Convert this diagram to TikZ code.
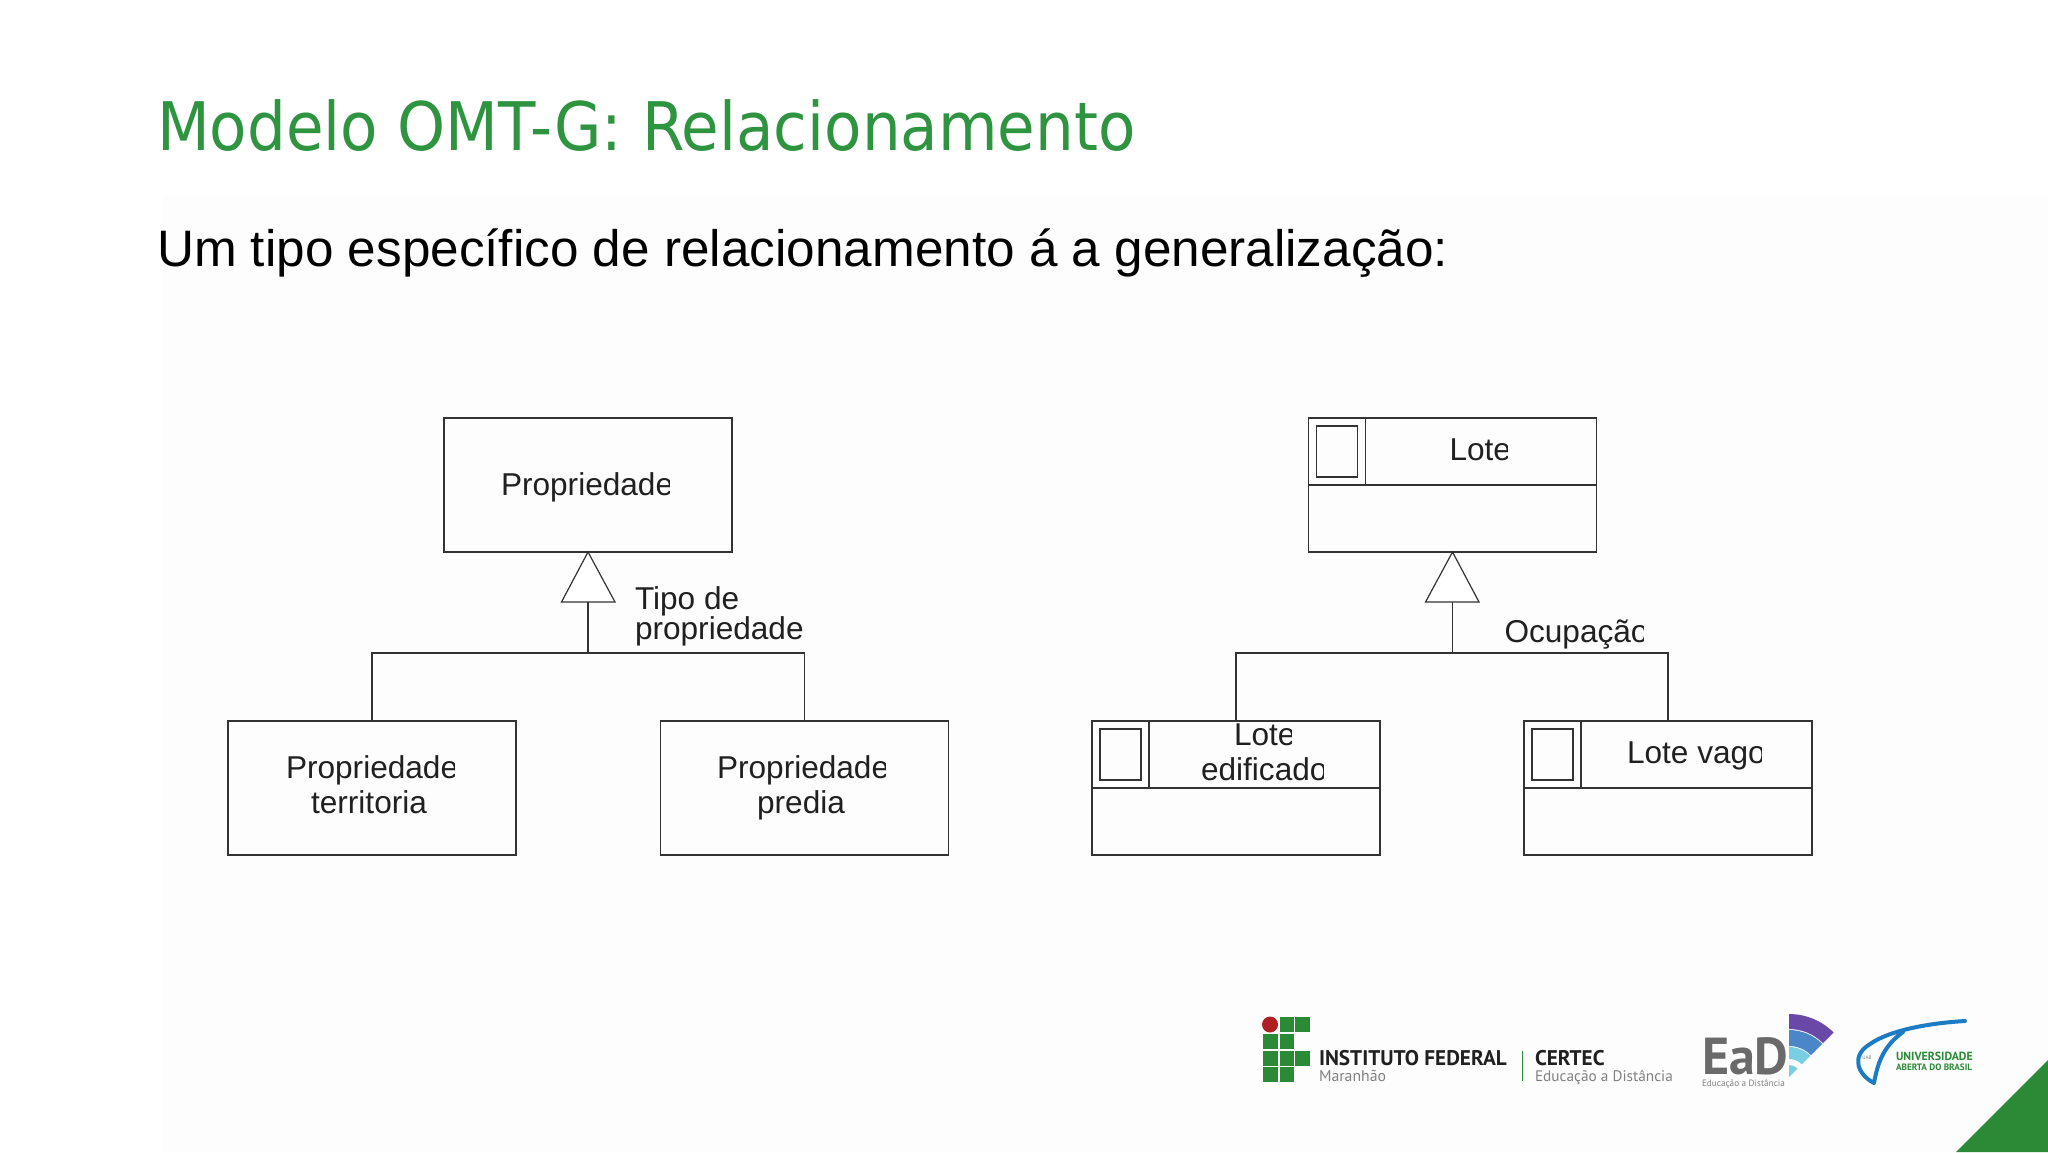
\documentclass[tikz,border=0pt]{standalone}
\usepackage{fontspec}
\setmainfont{Liberation Sans}
\newfontfamily\titlefont{DejaVu Sans}[FakeStretch=0.913]
\newfontfamily\logofont{PT Sans}
\definecolor{ifgreen}{HTML}{2E9440}
\definecolor{logogreen}{HTML}{2A8A35}
\definecolor{ink}{HTML}{202020}
\definecolor{wire}{HTML}{333333}
\definecolor{bgtint}{HTML}{FDFDFD}
\definecolor{uabblue}{HTML}{1B7CC4}
\definecolor{eadgray}{HTML}{6A6A6A}
\definecolor{eadpurple}{HTML}{6A48A8}
\definecolor{eadblue}{HTML}{4A86C8}
\definecolor{eadcyan}{HTML}{78CFE2}
\definecolor{ifred}{HTML}{B01E24}
\tikzset{
  x=0.5pt,y=-0.5pt,
  wire/.style={draw=wire,line width=0.6pt},
  classbox/.style={wire,rectangle,minimum width=144pt,minimum height=67pt,inner sep=0pt,outer sep=0pt},
  iconcell/.style={wire,rectangle,minimum width=28.5pt,minimum height=33.5pt,inner sep=0pt,outer sep=0pt},
  iconbox/.style={wire,rectangle,minimum width=20.5pt,minimum height=25.5pt,inner sep=0pt,outer sep=0pt},
  lbl/.style={anchor=base west,inner sep=0pt,outer sep=0pt,text=ink,font=\fontsize{15.8pt}{18pt}\selectfont},
  clbl/.style={lbl,anchor=base},
  cutter/.style={fill=bgtint,draw=none},
  square/.style={fill=logogreen,draw=none},
  logotxt/.style={anchor=base west,inner sep=0pt,outer sep=0pt},
}
\newcommand{\cutend}[2]{\fill[cutter] ([xshift=-#2pt,yshift=-7pt]#1.base east) rectangle ([xshift=1pt,yshift=15pt]#1.base east);}
\begin{document}
\begin{tikzpicture}
\useasboundingbox (0,0) rectangle (2048,1152);
\fill[white] (0,0) rectangle (2048,1152);
\fill[bgtint] (163,195) rectangle (2048,1152);

% Title and subtitle
\node[logotxt,text=ifgreen] (title) at (157,150) {\fontsize{33.5pt}{40pt}\titlefont Modelo OMT-G: Relacionamento};
\node[logotxt,text=black] (sub) at (157,266) {\fontsize{25.64pt}{31pt}\selectfont Um tipo específico de relacionamento á a generalização:};

% Labels first, so that the trimmed word ends never cover a line
\node[lbl] (l1) at (501,495) {Propriedade};
\node[lbl] (l2) at (286,778) {Propriedade};
\node[clbl] (l3) at (369,813) {territoria};
\node[lbl] (l4) at (717,778) {Propriedade};
\node[clbl] (l5) at (801,813) {predia};
\node[lbl] (l6) at (635,609) {Tipo de};
\node[lbl] (l7) at (635,639) {propriedade};
\cutend{l1}{1.6}\cutend{l2}{1.6}\cutend{l4}{1.6}\cutend{l6}{0.8}

\node[lbl] (r1) at (1449.5,460) {Lote};
\node[lbl] (r2) at (1504.5,642) {Ocupação};
\node[lbl] (r3) at (1234,745) {Lote};
\node[lbl] (r4) at (1201,780) {edificado};
\node[lbl] (r5) at (1627,763) {Lote vago};
\cutend{r1}{1.7}\cutend{r2}{2.2}\cutend{r3}{1.7}\cutend{r4}{1.9}\cutend{r5}{2}

% Left diagram
\node[classbox] (prop) at (588,485) {};
\node[classbox] (pt) at (372,788) {};
\node[classbox] (pp) at (804.5,788) {};
\coordinate (ja) at (588,653);
\coordinate (tbA) at (588,602);
\draw[wire,fill=white] (prop.south) -- (615,602) -- (561.5,602) -- cycle;
\draw[wire] (tbA) -- (ja);
\draw[wire] (pt.north) |- (ja) -| (pp.north);

% Right diagram
\node[classbox] (lote) at (1452.5,485) {};
\node[classbox] (le) at (1236,788) {};
\node[classbox] (lv) at (1668,788) {};
\coordinate (jb) at (1452.5,653);
\coordinate (tbB) at (1452.5,602);
\draw[wire,fill=white] (lote.south) -- (1479,602) -- (1425.5,602) -- cycle;
\draw[wire] (tbB) -- (jb);
\draw[wire] (le.north) |- (jb) -| (lv.north);

\foreach \b/\yy in {lote/418,le/721,lv/721}{
  \draw[wire] (\b.west |- 0,\yy+67) -- (\b.east |- 0,\yy+67);
}
\node[iconcell,anchor=north west] (c1) at (lote.north west) {};
\node[iconcell,anchor=north west] (c2) at (le.north west) {};
\node[iconcell,anchor=north west] (c3) at (lv.north west) {};
\node[iconbox] (i1) at (c1) {};
\node[iconbox] (i2) at (c2) {};
\node[iconbox] (i3) at (c3) {};

% Logos: IF
\fill[ifred] (1270,1024.5) ellipse (8 and 8);
\foreach \xa/\ya in {1279.5/1017,1295/1017,1263/1034,1279.5/1034,1263/1051,1279.5/1051,1295/1051,1263/1067,1279.5/1067}{
  \fill[square] (\xa,\ya) rectangle ++(14.5,14.5);
}
\node[logotxt,text=ink] (if1) at (1319,1065) {\fontsize{10.6pt}{12pt}\logofont\bfseries INSTITUTO FEDERAL};
\node[logotxt,text=gray] (if2) at (1319,1081) {\fontsize{7.9pt}{10pt}\logofont Maranhão};
\draw[logogreen,line width=0.5pt] (1522,1051) -- (1522,1081);
\node[logotxt,text=ink] (ce1) at (1535,1065) {\fontsize{10.6pt}{12pt}\logofont\bfseries CERTEC};
\node[logotxt,text=gray] (ce2) at (1535,1081) {\fontsize{7.65pt}{10pt}\logofont Educação a Distância};

% EaD
\node[logotxt,text=eadgray] (ead) at (1702,1074) {\fontsize{26pt}{28pt}\logofont\bfseries EaD};
\node[logotxt,text=gray] (eadb) at (1702,1086) {\fontsize{4.6pt}{6pt}\logofont Educação a Distância};
\fill[eadpurple] (1789,1014) arc (-90:-45:63) -- ++(135:15) arc (-45:-90:48) -- cycle;
\fill[eadblue] (1789,1030) arc (-90:-45:47) -- ++(135:16) arc (-45:-90:31) -- cycle;
\fill[eadcyan] (1789,1047) arc (-90:-45:30) -- ++(135:12) arc (-45:-90:18) -- cycle;
\fill[eadcyan] (1789,1065) arc (-90:-45:12) -- (1789,1077) -- cycle;

% UAB
\draw[uabblue,line width=2pt,line cap=round,line join=round]
  (1965,1021) .. controls (1930,1023) and (1890,1030) .. (1870,1044)
  .. controls (1850,1056) and (1858,1075) .. (1874,1083)
  .. controls (1878,1060) and (1885,1045) .. (1903,1032);
\node[text=gray,inner sep=0pt] (uab) at (1867,1058) {\fontsize{2.5pt}{3pt}\logofont UAB};
\node[logotxt,text=logogreen] (ua1) at (1896,1060) {\fontsize{5.9pt}{7pt}\logofont\bfseries UNIVERSIDADE};
\node[logotxt,text=logogreen] (ua2) at (1896,1070) {\fontsize{4.6pt}{6pt}\logofont\bfseries ABERTA DO BRASIL};

% Corner
\fill[logogreen] (1956,1152) -- (2048,1060) -- (2048,1152) -- cycle;
\end{tikzpicture}
\end{document}
